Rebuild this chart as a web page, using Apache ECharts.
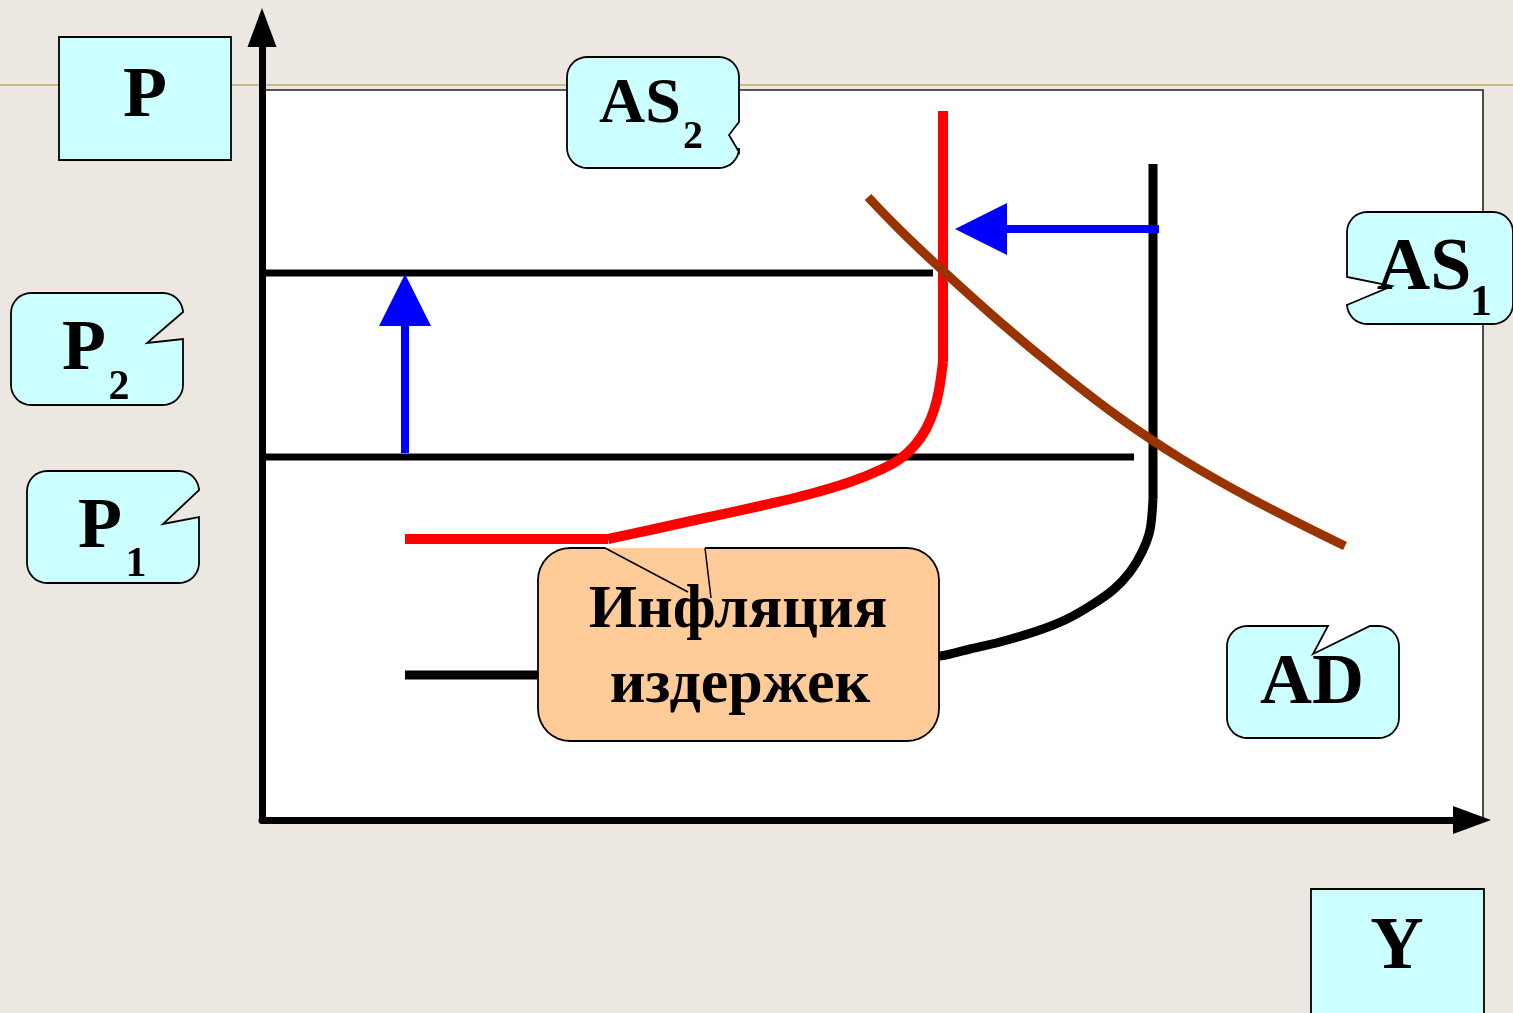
<!DOCTYPE html>
<html>
<head>
<meta charset="utf-8">
<title>Инфляция издержек</title>
<script src="https://cdn.jsdelivr.net/npm/echarts@6.0.0/dist/echarts.min.js"></script>
<style>
  html, body { margin: 0; padding: 0; background: #ede7e2; }
  #chart { width: 1513px; height: 1013px; }
</style>
</head>
<body>
<div id="chart"></div>
<script>
"use strict";

// axis ranges (Y = output, P = price level)
var xMax = 121, yMax = 79.25;

// price levels P2 and P1
var p2Line = [[0, 54.7], [67.1, 54.7]];
var p1Line = [[0, 36.3], [87.2, 36.3]];

// AS2 (red): flat part, bend, vertical part
var as2Flat = [[14.3, 28.1], [34.6, 28.1]];
var as2Curve = [[34.6, 28.1], [38.8, 29.0], [43.8, 30.1], [49.8, 31.4], [54.8, 32.6],
                [58.8, 33.8], [61.8, 35.0], [63.8, 36.1], [65.3, 37.5], [66.4, 39.1],
                [67.2, 41.0], [67.7, 43.0], [68.1, 45.8]];
var as2Vert = [[68.1, 45.8], [68.1, 70.9]];

// AS1 (black)
var as1Curve = [[14.3, 14.5], [27.8, 14.5], [43.8, 15.2], [58.8, 15.9], [67.8, 16.4],
                [70.8, 17.1], [73.8, 17.8], [77.5, 18.9], [80.3, 20.0], [82.8, 21.4],
                [85.1, 23.0], [86.8, 24.8], [88.0, 26.8], [88.8, 29.0], [89.1, 32.1]];
var as1Vert = [[89.1, 32.1], [89.1, 65.6]];

// AD (brown)
var adCurve = [[60.6, 62.3], [63.8, 59.0], [67.8, 55.2], [73.8, 49.8], [79.8, 44.8],
               [85.8, 40.2], [91.8, 36.2], [98.8, 32.2], [108.3, 27.4]];

// shift arrows
var arrowUp = [[14.3, 36.7], [14.3, 52.0]];
var arrowLeft = [[89.7, 59.1], [71.9, 59.1]];

var cyan = '#CCFFFF', peach = '#FFCC99';
var serif = '"Liberation Serif", "Times New Roman", serif';

function arc(cx, cy, r, a0, a1) {
  var pts = [];
  for (var i = 0; i <= 8; i++) {
    var a = a0 + (a1 - a0) * i / 8;
    pts.push([cx + r * Math.cos(a), cy + r * Math.sin(a)]);
  }
  return pts;
}

function roundCorners(x, y, w, h, r) {
  var x2 = x + w, y2 = y + h, P = Math.PI;
  return [
    arc(x + r, y + r, r, P, 1.5 * P),
    arc(x2 - r, y + r, r, 1.5 * P, 2 * P),
    arc(x2 - r, y2 - r, r, 0, 0.5 * P),
    arc(x + r, y2 - r, r, 0.5 * P, P)
  ];
}

function bubble(x, y, w, h, r, side, notch) {
  var c = roundCorners(x, y, w, h, r);
  var pts = [].concat(c[0]);
  if (side === 'top') pts = pts.concat(notch);
  pts = pts.concat(c[1]);
  if (side === 'right') pts = pts.concat(notch);
  pts = pts.concat(c[2], c[3]);
  if (side === 'left') pts = pts.concat(notch);
  return pts;
}

function shape(points, fill) {
  return {
    type: 'polygon', z: 20, silent: true,
    shape: { points: points },
    style: { fill: fill, stroke: '#000', lineWidth: 1.8 }
  };
}

function label(text, x, y, size) {
  return {
    type: 'text', z: 22, silent: true, x: x, y: y,
    style: {
      text: text, x: 0, y: 0, align: 'center', verticalAlign: 'middle',
      fontSize: size, fontWeight: 'bold', fontFamily: serif, fill: '#000'
    }
  };
}

// orange callout: box with the pointer drawn inward
var oc = roundCorners(538, 548, 401, 193, 32);
var orangeOutline = [[705, 548]].concat(oc[1], oc[2], oc[3], oc[0], [[605, 548]]);

var graphics = [
  { type: 'line', z: 1, silent: true, shape: { x1: 0, y1: 85, x2: 1513, y2: 85 },
    style: { stroke: '#CDBB86', lineWidth: 2 } },
  { type: 'rect', z: 1, silent: true, shape: { x: 262, y: 90, width: 1221, height: 730 },
    style: { fill: '#fff', stroke: '#222', lineWidth: 1.6 } },

  { type: 'rect', z: 20, silent: true, shape: { x: 59, y: 37, width: 172, height: 123 },
    style: { fill: cyan, stroke: '#000', lineWidth: 1.8 } },
  { type: 'rect', z: 20, silent: true, shape: { x: 1311, y: 889, width: 173, height: 140 },
    style: { fill: cyan, stroke: '#000', lineWidth: 1.8 } },
  shape(bubble(11, 293, 172, 112, 20, 'right', [[183, 312], [147, 343], [183, 339]]), cyan),
  shape(bubble(27, 471, 172, 112, 20, 'right', [[199, 490], [163, 524], [199, 517]]), cyan),
  shape(bubble(567, 57, 172, 111, 20, 'right', [[739, 122], [729, 135], [739, 152]]), cyan),
  shape(bubble(1347, 212, 166, 112, 20, 'left', [[1347, 305], [1392, 286], [1347, 277]]), cyan),
  shape(bubble(1227, 626, 172, 112, 20, 'top', [[1328, 626], [1313, 654], [1370, 626]]), cyan),

  { type: 'polygon', z: 20, silent: true, shape: { points: [].concat(oc[0], oc[1], oc[2], oc[3]) },
    style: { fill: peach, stroke: null } },
  { type: 'polyline', z: 21, silent: true, shape: { points: orangeOutline },
    style: { fill: null, stroke: '#000', lineWidth: 1.8 } },
  { type: 'line', z: 21, silent: true, shape: { x1: 605, y1: 548, x2: 688, y2: 592 },
    style: { stroke: '#000', lineWidth: 1.5 } },
  { type: 'line', z: 21, silent: true, shape: { x1: 705, y1: 548, x2: 711, y2: 598 },
    style: { stroke: '#000', lineWidth: 1.5 } },

  label('P', 145, 97, 72),
  label('Y', 1397, 949, 74),
  label('P', 84, 350, 72), label('2', 119, 388, 42),
  label('P', 100, 528, 72), label('1', 136, 565, 42),
  label('AS', 640, 105, 64), label('2', 693, 138, 40),
  label('AS', 1424, 270, 74), label('1', 1481, 304, 44),
  label('AD', 1312, 684, 72),
  label('Инфляция', 738, 611, 62),
  label('издержек', 740, 686, 62)
];

function curve(data, color, width, smooth, z) {
  return {
    type: 'line', data: data, smooth: smooth, symbol: 'none', silent: true, z: z,
    lineStyle: { color: color, width: width, cap: 'butt' }
  };
}

function axis(max, arrow) {
  return {
    type: 'value', min: 0, max: max, z: 5,
    axisLine: { show: true, onZero: false, symbol: ['none', 'triangle'], symbolSize: arrow,
                lineStyle: { color: '#000', width: 7 } },
    axisTick: { show: false }, axisLabel: { show: false }, splitLine: { show: false }
  };
}

var chart = echarts.init(document.getElementById('chart'), null, { renderer: 'canvas' });

var option = {
  backgroundColor: '#ede7e2',
  animation: false,
  grid: { left: 262, right: 41, top: 27.5, bottom: 193 },
  xAxis: axis(xMax, [28, 38]),
  yAxis: axis(yMax, [29, 39]),
  graphic: graphics,
  series: [
    curve(p2Line, '#000', 7, false, 6),
    curve(p1Line, '#000', 7, false, 6),
    curve(as1Curve, '#000', 9, 0.3, 7),
    curve(as1Vert, '#000', 9, false, 7),
    curve(as2Flat, '#FF0000', 10, false, 8),
    curve(as2Curve, '#FF0000', 10, 0.3, 8),
    curve(as2Vert, '#FF0000', 10, false, 8),
    curve(adCurve, '#993300', 9, 0.4, 9),
    {
      type: 'lines', coordinateSystem: 'cartesian2d', silent: true, z: 10,
      symbol: ['none', 'triangle'], symbolSize: [37, 52],
      lineStyle: { color: '#0000FF', width: 8, opacity: 1, curveness: 0 },
      data: [{ coords: arrowUp }, { coords: arrowLeft }]
    }
  ]
};

chart.setOption(option);
</script>
</body>
</html>
